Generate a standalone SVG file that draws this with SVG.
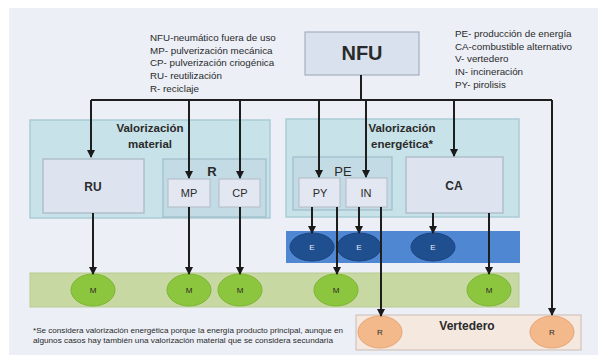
<svg xmlns="http://www.w3.org/2000/svg" width="605" height="362" viewBox="0 0 605 362">
<defs>
<marker id="ah" markerWidth="8" markerHeight="8" refX="7" refY="4" orient="auto" markerUnits="userSpaceOnUse">
<path d="M0,0 L8,4 L0,8 Z" fill="#1a1a1a"/>
</marker>
<style>
.t{font-family:"Liberation Sans",Arial,sans-serif;fill:#2a2a2a}
.leg{font-size:9.8px}
.b{font-weight:bold}
.grp{fill:#c7e2e8;stroke:#aacdd6;stroke-width:1.5}
.sub{fill:#c3dbe4;stroke:#9fbcc8;stroke-width:1.2}
.big{fill:#dde4ef;stroke:#a9b6c4;stroke-width:1.2}
.sm{fill:#e3e7f1;stroke:#b3bcc8;stroke-width:1}
.c{fill:none;stroke:#1e1e1e;stroke-width:2}
.ca{fill:none;stroke:#1e1e1e;stroke-width:2;marker-end:url(#ah)}
.m{fill:#8cc63e;stroke:#7bb535;stroke-width:1}
.e{fill:#1f4f8f;stroke:#1a4480;stroke-width:1}
.r{fill:#f3b98b;stroke:#e6a57a;stroke-width:1}
.w{fill:#e8eef8}
</style>
</defs>
<rect x="0" y="0" width="605" height="362" fill="#ffffff"/>
<rect x="9" y="8" width="589" height="347" fill="#eceff6"/>

<g id="legend-left">
<text class="t leg" x="150" y="41">NFU-neumático fuera de uso</text>
<text class="t leg" x="150" y="54">MP- pulverización mecánica</text>
<text class="t leg" x="150" y="66">CP- pulverización criogénica</text>
<text class="t leg" x="150" y="79">RU- reutilización</text>
<text class="t leg" x="150" y="92">R- reciclaje</text>
</g>
<g id="legend-right">
<text class="t leg" x="455" y="37">PE- producción de energía</text>
<text class="t leg" x="455" y="50">CA-combustible alternativo</text>
<text class="t leg" x="455" y="62">V- vertedero</text>
<text class="t leg" x="455" y="75">IN- incineración</text>
<text class="t leg" x="455" y="88">PY- pirolisis</text>
</g>

<g id="NFU">
<rect x="305" y="32" width="114" height="43" fill="#d9e1ee" stroke="#a4b0bf" stroke-width="1.2"/>
<text class="t b" x="362" y="60" font-size="20" text-anchor="middle">NFU</text>
</g>

<g id="valorizacion-material">
<rect class="grp" x="30" y="120" width="240" height="98"/>
<text class="t b" x="150" y="132" font-size="11.5" text-anchor="middle">Valorización</text>
<text class="t b" x="150" y="148" font-size="11.5" text-anchor="middle">material</text>
</g>
<g id="RU">
<rect class="big" x="43" y="159" width="101" height="54"/>
<text class="t b" x="93" y="191" font-size="12" text-anchor="middle">RU</text>
</g>
<g id="R">
<rect class="sub" x="163" y="159" width="103" height="58"/>
<text class="t b" x="212" y="176" font-size="13" text-anchor="middle">R</text>
</g>
<g id="MP">
<rect class="sm" x="168" y="179" width="42" height="28"/>
<text class="t" x="189" y="197" font-size="11" text-anchor="middle">MP</text>
</g>
<g id="CP">
<rect class="sm" x="219" y="179" width="41" height="28"/>
<text class="t" x="240" y="197" font-size="11" text-anchor="middle">CP</text>
</g>

<g id="valorizacion-energetica">
<rect class="grp" x="286" y="119" width="233" height="98"/>
<text class="t b" x="402" y="132" font-size="11.5" text-anchor="middle">Valorización</text>
<text class="t b" x="402" y="148" font-size="11.5" text-anchor="middle">energética*</text>
</g>
<g id="PE">
<rect class="sub" x="293" y="157" width="99" height="53"/>
<text class="t" x="343" y="176" font-size="13" text-anchor="middle">PE</text>
</g>
<g id="PY">
<rect class="sm" x="299" y="178" width="41" height="29"/>
<text class="t" x="320" y="197" font-size="11" text-anchor="middle">PY</text>
</g>
<g id="IN">
<rect class="sm" x="346" y="178" width="41" height="29"/>
<text class="t" x="366" y="197" font-size="11" text-anchor="middle">IN</text>
</g>
<g id="CA">
<rect class="big" x="406" y="157" width="97" height="56"/>
<text class="t b" x="454" y="190" font-size="12" text-anchor="middle">CA</text>
</g>

<g id="energia">
<rect x="286" y="231" width="234" height="32" fill="#5087d2"/>
<ellipse class="e" cx="312" cy="247" rx="22" ry="14"/>
<ellipse class="e" cx="359" cy="247" rx="22" ry="14"/>
<ellipse class="e" cx="433" cy="247" rx="22" ry="14"/>
<text class="t w" x="312" y="250" font-size="8" text-anchor="middle">E</text>
<text class="t w" x="359" y="250" font-size="8" text-anchor="middle">E</text>
<text class="t w" x="433" y="250" font-size="8" text-anchor="middle">E</text>
</g>

<g id="material">
<rect x="30" y="273" width="489" height="34" fill="#c8d8a2" stroke="#b8cc90" stroke-width="1"/>
<ellipse class="m" cx="93" cy="290" rx="22" ry="16"/>
<ellipse class="m" cx="189" cy="290" rx="22" ry="16"/>
<ellipse class="m" cx="240" cy="290" rx="22" ry="16"/>
<ellipse class="m" cx="336" cy="290" rx="22" ry="16"/>
<ellipse class="m" cx="489" cy="290" rx="22" ry="16"/>
<text class="t" x="93" y="293" font-size="8" text-anchor="middle">M</text>
<text class="t" x="189" y="293" font-size="8" text-anchor="middle">M</text>
<text class="t" x="240" y="293" font-size="8" text-anchor="middle">M</text>
<text class="t" x="336" y="293" font-size="8" text-anchor="middle">M</text>
<text class="t" x="489" y="293" font-size="8" text-anchor="middle">M</text>
</g>

<g id="vertedero">
<rect x="356" y="315" width="225" height="35" fill="#f4e8df" stroke="#c9bdb4" stroke-width="1"/>
<text class="t b" x="467" y="330" font-size="12" text-anchor="middle">Vertedero</text>
<ellipse class="r" cx="380" cy="332" rx="22" ry="16"/>
<ellipse class="r" cx="552" cy="332" rx="22" ry="16"/>
<text class="t" x="380" y="335" font-size="8" text-anchor="middle">R</text>
<text class="t" x="552" y="335" font-size="8" text-anchor="middle">R</text>
</g>

<g id="connectors">
<path class="c" d="M361,75 V100 M91,100 H552"/>
<path class="ca" d="M91,100 V157"/>
<path class="ca" d="M189,100 V178"/>
<path class="ca" d="M240,100 V178"/>
<path class="ca" d="M319,100 V177"/>
<path class="ca" d="M366,100 V177"/>
<path class="ca" d="M454,100 V156"/>
<path class="ca" d="M552,100 V315"/>
<path class="ca" d="M93,213 V274"/>
<path class="ca" d="M189,207 V274"/>
<path class="ca" d="M240,207 V274"/>
<path class="ca" d="M312,207 V233"/>
<path class="ca" d="M337,207 V274"/>
<path class="ca" d="M359,207 V233"/>
<path class="ca" d="M381,207 V316"/>
<path class="ca" d="M433,213 V233"/>
<path class="ca" d="M489,213 V274"/>
</g>

<g id="footnote">
<text class="t" x="33" y="333" font-size="6.3" textLength="310" lengthAdjust="spacingAndGlyphs">*Se considera valorización energética porque la energía producto principal, aunque en</text>
<text class="t" x="33" y="343" font-size="6.3" textLength="300" lengthAdjust="spacingAndGlyphs">algunos casos hay también una valorización material que se considera secundaria</text>
</g>
</svg>
